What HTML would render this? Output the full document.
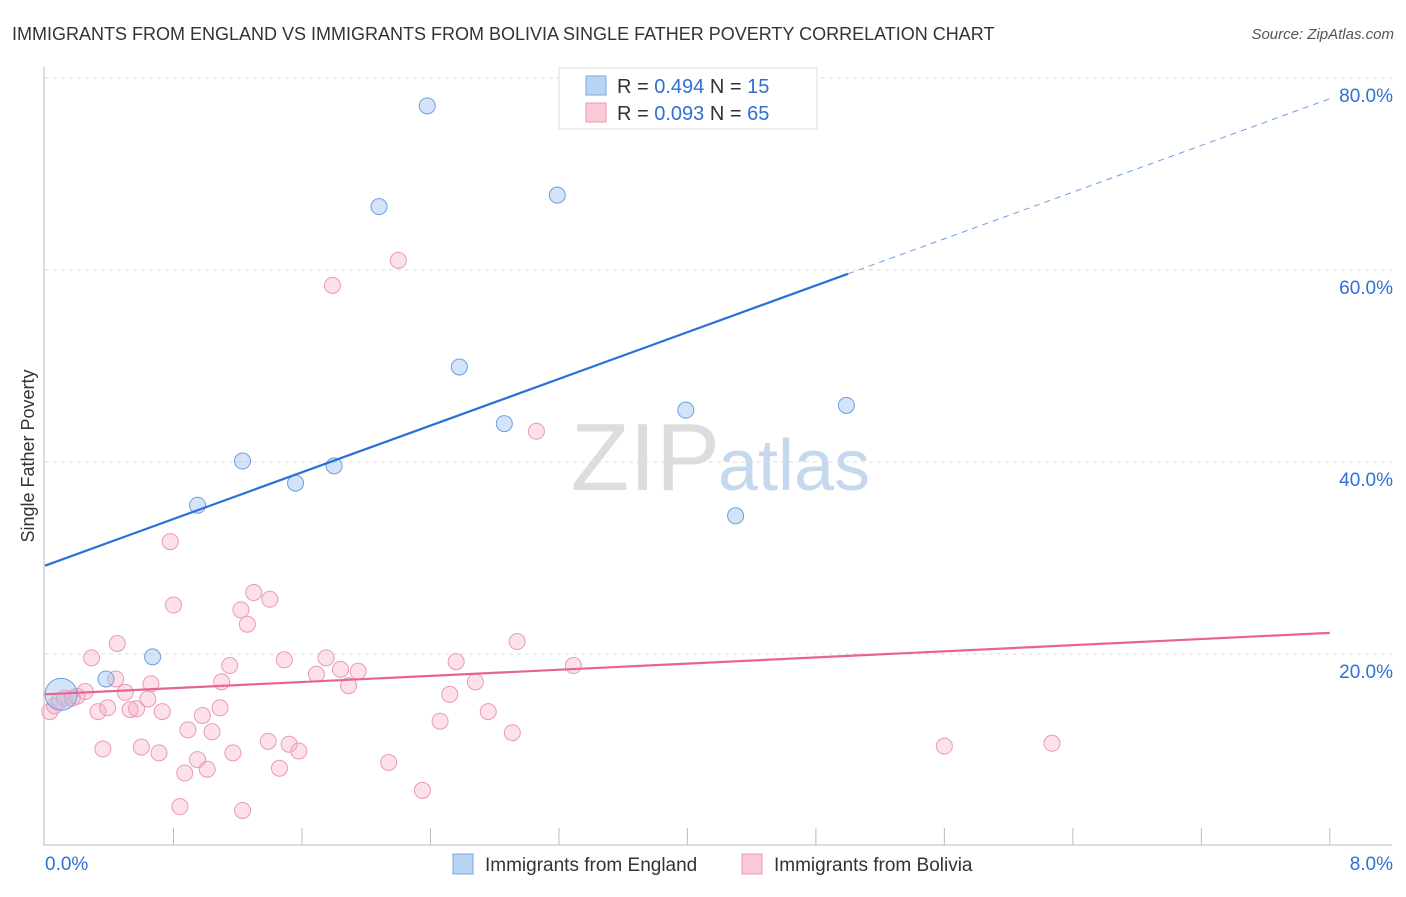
<!DOCTYPE html>
<html><head><meta charset="utf-8"><style>
body{margin:0;background:#fff;font-family:"Liberation Sans",sans-serif;}
svg text{font-family:"Liberation Sans",sans-serif;}
</style></head><body>
<svg id="chart" width="1406" height="892">
<text x="12" y="40" font-size="18" fill="#333">IMMIGRANTS FROM ENGLAND VS IMMIGRANTS FROM BOLIVIA SINGLE FATHER POVERTY CORRELATION CHART</text>
<text x="1394" y="39" font-size="15" fill="#555" font-style="italic" text-anchor="end">Source: ZipAtlas.com</text>
<text x="34" y="456" font-size="18" fill="#333" text-anchor="middle" transform="rotate(-90 34 456)">Single Father Poverty</text>
<text x="720" y="490" font-size="96" fill="#ddd" text-anchor="end" font-family="Liberation Serif">ZIP</text>
<text x="718" y="490" font-size="72" fill="#c5d8ee">atlas</text>
<g id="grid"></g><g id="axes"></g><g id="marks"></g>
<g>
<rect x="559" y="68" width="258" height="61" fill="#fff" stroke="#ddd"/>
<rect x="586" y="76" width="20" height="19" fill="#b9d3f3" stroke="#7aa8e0"/>
<rect x="586" y="103" width="20" height="19" fill="#f9c9d6" stroke="#eb9ab2"/>
<text x="617" y="93" font-size="20" fill="#333">R = <tspan fill="#2f6fd6">0.494</tspan>   N = <tspan fill="#2f6fd6">15</tspan></text>
<text x="617" y="120" font-size="20" fill="#333">R = <tspan fill="#2f6fd6">0.093</tspan>   N = <tspan fill="#2f6fd6">65</tspan></text>
</g>
<g>
<rect x="453" y="854" width="20" height="20" fill="#b9d3f3" stroke="#7aa8e0"/>
<text x="485" y="871" font-size="19" fill="#333">Immigrants from England</text>
<rect x="742" y="854" width="20" height="20" fill="#f9c9d6" stroke="#eb9ab2"/>
<text x="774" y="871" font-size="19" fill="#333">Immigrants from Bolivia</text>
</g>
</svg>
<script>
const yTicks=[20,40,60,80];
const yTickLabels=["20.0%","40.0%","60.0%","80.0%"];
const xTickLabels=["0.0%","8.0%"];
const englandX=[0.1,0.38,0.67,0.95,1.23,1.56,1.8,2.08,2.38,2.58,2.86,3.19,3.99,4.3,4.99];
const englandY=[15.8,17.4,19.7,35.5,40.1,37.8,39.6,66.6,77.1,49.9,44.0,67.8,45.4,34.4,45.9];
const boliviaX=[0.03,0.06,0.09,0.12,0.17,0.2,0.25,0.29,0.33,0.36,0.39,0.44,0.45,0.5,0.53,0.57,0.6,0.64,0.66,0.71,0.73,0.78,0.8,0.84,0.87,0.89,0.95,0.98,1.01,1.04,1.09,1.1,1.15,1.17,1.22,1.23,1.26,1.3,1.39,1.4,1.46,1.49,1.52,1.58,1.69,1.75,1.79,1.84,1.89,1.95,2.14,2.2,2.35,2.46,2.52,2.56,2.68,2.76,2.91,2.94,3.06,3.29,5.6,6.27];
const boliviaY=[14.0,14.6,15.1,15.4,15.4,15.6,16.1,19.6,14.0,10.1,14.4,17.4,21.1,16.0,14.2,14.3,10.3,15.3,16.9,9.7,14.0,31.7,25.1,4.1,7.6,12.1,9.0,13.6,8.0,11.9,14.4,17.1,18.8,9.7,24.6,3.7,23.1,26.4,10.9,25.7,8.1,19.4,10.6,9.9,17.9,19.6,58.4,18.4,16.7,18.2,8.7,61.0,5.8,13.0,15.8,19.2,17.1,14.0,11.8,21.3,43.2,18.8,10.4,10.7];
const blueFit=[29.2,6.08];
const pinkFit=[15.8,0.8];
const NS='http://www.w3.org/2000/svg';
const X=v=>45+v*160.6, Y=v=>846-v*9.6;
function mk(parent,tag,attrs){const e=document.createElementNS(NS,tag);for(const k in attrs)e.setAttribute(k,attrs[k]);document.getElementById(parent).appendChild(e);return e;}
yTicks.forEach((t,i)=>{
 let g=mk('grid','line',{x1:45,x2:1392,y1:Y(t),y2:Y(t),stroke:'#ddd','stroke-dasharray':'4,4'});
 
 
 let l=mk('grid','text',{x:1393,y:Y(t)+24,'font-size':19,fill:'#2f6fd6','text-anchor':'end'});
 l.textContent=yTickLabels[i];
 
 
});
let ax=mk('axes','path',{d:'M44,67 V845 H1392',stroke:'#bbb',fill:'none'});


for(let i=1;i<=10;i++){let t=mk('axes','line',{x1:X(i*0.8),x2:X(i*0.8),y1:828,y2:845,stroke:'#bbb'});
 
 }
[[0,45,'start'],[8,1393,'end']].forEach((d,i)=>{let l=mk('axes','text',{x:d[1],y:870,'font-size':19,fill:'#2f6fd6','text-anchor':d[2]});l.textContent=xTickLabels[i];
 
 });
boliviaX.forEach((x,i)=>{let c=mk('marks','circle',{cx:X(x),cy:Y(boliviaY[i]),r:8,fill:'rgba(246,170,192,0.35)',stroke:'#eb9ab2','stroke-width':1});
 
 });
englandX.forEach((x,i)=>{let c=mk('marks','circle',{cx:X(x),cy:Y(englandY[i]),r:i===0?16:8,fill:'rgba(160,196,240,0.45)',stroke:'#6d9ee0','stroke-width':1});
 
 });
let bl=mk('marks','line',{x1:X(0),y1:Y(blueFit[0]),x2:X(5),y2:Y(blueFit[0]+5*blueFit[1]),stroke:'#2a6fd8','stroke-width':2.2});


let bd=mk('marks','line',{x1:X(5),y1:Y(blueFit[0]+5*blueFit[1]),x2:X(8),y2:Y(blueFit[0]+8*blueFit[1]),stroke:'#6d9ee0','stroke-width':1,'stroke-dasharray':'6,5'});


let pl=mk('marks','line',{x1:X(0),y1:Y(pinkFit[0]),x2:X(8),y2:Y(pinkFit[0]+8*pinkFit[1]),stroke:'#e8648f','stroke-width':2.2});


</script>
</body></html>
